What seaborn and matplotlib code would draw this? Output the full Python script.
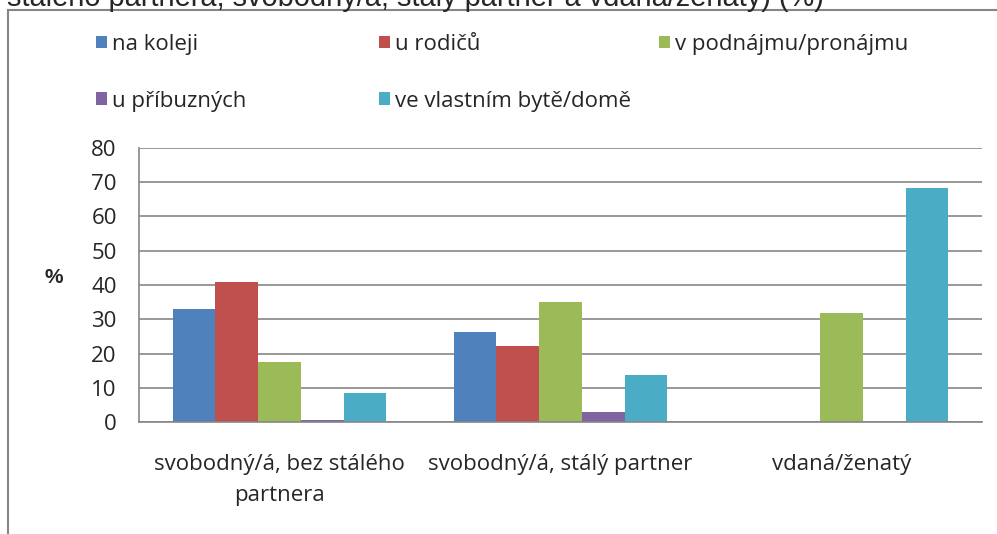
import numpy as np
import matplotlib
matplotlib.use("Agg")
import matplotlib.pyplot as plt
from matplotlib.patches import Patch, Rectangle
import seaborn as sns
import pandas as pd

categories = ["svobodný/á, bez stálého\npartnera", "svobodný/á, stálý partner", "vdaná/ženatý"]
series = ["na koleji", "u rodičů", "v podnájmu/pronájmu", "u příbuzných", "ve vlastním bytě/domě"]
na_koleji = [33.0, 26.2, 0.0]
u_rodicu = [40.8, 22.3, 0.0]
v_podnajmu = [17.4, 35.0, 31.8]
u_pribuznych = [0.7, 2.8, 0.0]
ve_vlastnim = [8.5, 13.6, 68.3]
colors = ["#4F81BD", "#C0504D", "#9BBB59", "#8064A2", "#4BACC6"]
yticks = [0, 10, 20, 30, 40, 50, 60, 70, 80]
title = "stálého partnera, svobodný/á, stálý partner a vdaná/ženatý) (%)"

values = [na_koleji, u_rodicu, v_podnajmu, u_pribuznych, ve_vlastnim]
df = pd.DataFrame({
    "kategorie": [c for s in series for c in categories],
    "bydleni": [s for s in series for _ in categories],
    "pct": [v for vals in values for v in vals],
})

sns.set_style("white")
font = ["Open Sans", "DejaVu Sans"]
plt.rcParams["font.family"] = font

W, H = 997, 534
fig = plt.figure(figsize=(W / 100, H / 100), dpi=100)
ax = fig.add_axes([139 / W, (H - 422) / H, (982 - 139) / W, (422 - 148) / H])

sns.barplot(data=df, x="kategorie", y="pct", hue="bydleni", order=categories,
            hue_order=series, palette=colors, width=0.76, gap=0,
            linewidth=0, saturation=1, ax=ax, legend=False)

grey = "#868686"
ax.set_ylim(0, 80)
ax.set_xlim(-0.5, 2.5)
ax.set_yticks(yticks)
ax.set_yticklabels([str(t) for t in yticks], fontsize=16)
ax.yaxis.grid(True, color=grey, linewidth=1.2)
ax.set_axisbelow(True)
ax.set_xticks([-0.5, 0.5, 1.5, 2.5])
ax.set_xticklabels([])
ax.set_xticks([0, 1, 2], minor=True)
ax.set_xticklabels(categories, minor=True, fontsize=16, linespacing=1.6)
ax.tick_params(axis="x", which="minor", length=0, pad=23)
ax.tick_params(axis="both", which="major", length=5, width=1.2, color=grey, direction="out")
ax.tick_params(axis="y", pad=11)
for s in ["top", "right"]:
    ax.spines[s].set_visible(False)
for s in ["left", "bottom"]:
    ax.spines[s].set_color(grey)
    ax.spines[s].set_linewidth(1.2)
ax.set_xlabel("")
ax.set_ylabel("%", rotation=0, fontsize=15, fontweight="bold",
              family=["Liberation Sans", "DejaVu Sans"])
ax.yaxis.set_label_coords((54 - 139) / (982 - 139), (422 - 287) / (422 - 148))

# legend, row-major in three columns
handles = [Patch(facecolor=c, edgecolor="none") for c in colors]
col_x = [96, 379, 659]
cols = [[0, 3], [1, 4], [2]]
for x, idx in zip(col_x, cols):
    fig.legend([handles[i] for i in idx], [series[i] for i in idx],
               loc="upper left", bbox_to_anchor=(x / W, (H - 34) / H),
               frameon=False, fontsize=16, handlelength=0.5, handleheight=0.5,
               handletextpad=0.2, labelspacing=1.6, borderpad=0, borderaxespad=0)

# chart-area frame (only top and left edges fall inside the picture)
fig.patches.append(Rectangle((8 / W, -0.1), 1.2, (H - 10) / H + 0.1,
                             transform=fig.transFigure, fill=False,
                             edgecolor=grey, linewidth=1.5))

fig.text(7 / W, (H - 6) / H, title, fontsize=20.9, va="baseline", ha="left",
         family=["Liberation Sans", "DejaVu Sans"])

fig.savefig("out.png", dpi=100)
